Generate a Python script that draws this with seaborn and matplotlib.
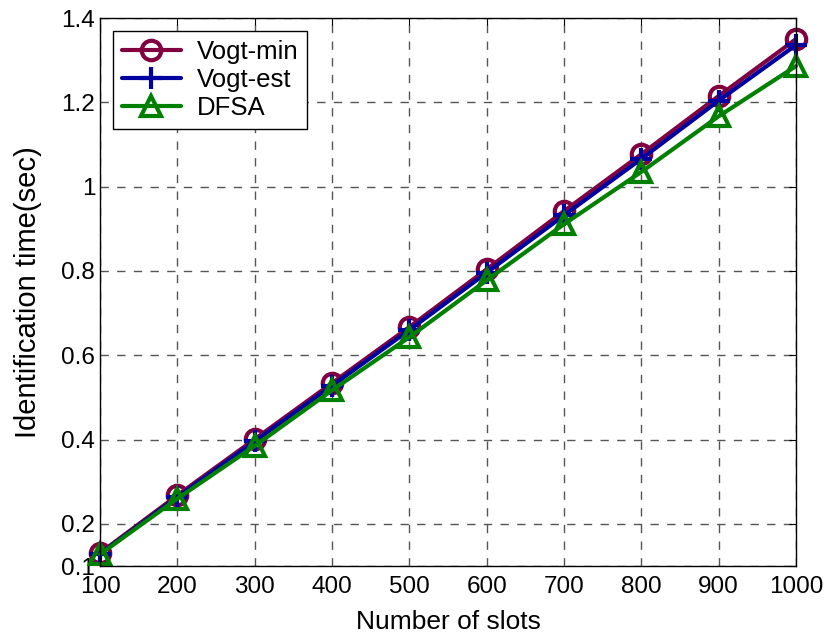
import numpy as np
import pandas as pd
import matplotlib
matplotlib.use("Agg")
import matplotlib.pyplot as plt
import seaborn as sns

sns.set_style("white")
plt.rcParams['font.family'] = ['Liberation Sans', 'DejaVu Sans']
plt.rcParams['text.color'] = 'black'
plt.rcParams['axes.labelcolor'] = 'black'
plt.rcParams['xtick.color'] = 'black'
plt.rcParams['ytick.color'] = 'black'

# data
slots = [100, 200, 300, 400, 500, 600, 700, 800, 900, 1000]
vogt_min = [0.131, 0.268, 0.401, 0.534, 0.667, 0.804, 0.942, 1.077, 1.215, 1.350]
vogt_est = [0.129, 0.264, 0.396, 0.528, 0.660, 0.796, 0.932, 1.066, 1.204, 1.336]
dfsa = [0.128, 0.260, 0.385, 0.517, 0.643, 0.778, 0.911, 1.035, 1.167, 1.286]

xticks = [100, 200, 300, 400, 500, 600, 700, 800, 900, 1000]
yticks = [0.1, 0.2, 0.4, 0.6, 0.8, 1.0, 1.2, 1.4]
yticklabels = ['0.1', '0.2', '0.4', '0.6', '0.8', '1', '1.2', '1.4']

fig = plt.figure(figsize=(8.27, 6.44), dpi=100)
ax = fig.add_axes([0.121, 0.121, 0.8415, 0.851])

series = [
    ('Vogt-min', vogt_min, '#800040', 'o'),
    ('Vogt-est', vogt_est, '#0000A0', '+'),
    ('DFSA', dfsa, '#008000', '^'),
]
for name, vals, col, mk in series:
    df = pd.DataFrame({'slots': slots, 'time': vals})
    sns.lineplot(data=df, x='slots', y='time', ax=ax, color=col, lw=3,
                 marker=mk, markersize=14 if mk != '+' else 16,
                 markerfacecolor='none', markeredgecolor=col, markeredgewidth=3,
                 label=name)

# markers at the ends sit over the frame, as in the original
for ln in ax.get_lines():
    ln.set_clip_on(False)

ax.set_xlim(100, 1000)
ax.set_ylim(0.1, 1.4)
ax.set_xticks(xticks)
ax.set_yticks(yticks)
ax.set_yticklabels(yticklabels)
ax.tick_params(axis='x', pad=7)
ax.tick_params(direction='in', labelsize=17.5, length=5, top=True, right=True,
               color='black')
ax.grid(True, linestyle=(0, (6, 6)), color='#555555', linewidth=1)
for s in ax.spines.values():
    s.set_color('black')
    s.set_linewidth(1)

ax.set_xlabel('Number of slots', fontsize=19, labelpad=9)
ax.set_ylabel('Identification time(sec)', fontsize=21, labelpad=14)

leg = ax.legend(loc='upper left', fontsize=18.5, frameon=True, fancybox=False,
                edgecolor='black', framealpha=1, handlelength=2.3,
                borderaxespad=0.5, labelspacing=0.15, borderpad=0.35,
                handletextpad=0.6)
leg.get_frame().set_linewidth(1)

fig.savefig('out.png', dpi=100)
